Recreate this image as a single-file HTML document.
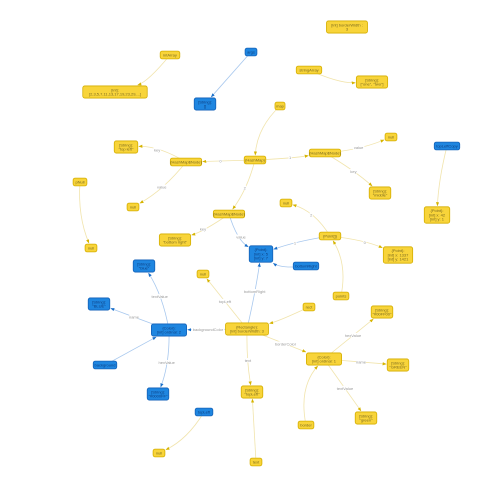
<!DOCTYPE html>
<html><head><meta charset="utf-8"><style>
html,body{margin:0;padding:0;background:#fff;}
svg{display:block;font-family:"Liberation Sans",sans-serif;}
</style></head><body>
<svg id="g" width="484" height="498" viewBox="0 0 484 498" xmlns="http://www.w3.org/2000/svg">
<defs>
<marker id="ay" viewBox="0 0 10 10" refX="9" refY="5" markerWidth="5" markerHeight="5" orient="auto"><path d="M0,1 L10,5 L0,9 z" fill="#d6b400"/></marker>
<marker id="ab" viewBox="0 0 10 10" refX="9" refY="5" markerWidth="5" markerHeight="5" orient="auto"><path d="M0,1 L10,5 L0,9 z" fill="#1a6fc9"/></marker>
</defs>
<g id="edges"></g><g id="nodes"></g>
</svg>
<script>
const nodeIds=["intArray","intArr","args","strEmpty","bw","stringArray","strOneTwo","map","sTopLeft","nodeL","hashMap","nodeR","nullR","sMiddle","topLeftCopy","p42","pNull","nullL","nullP","nodeM","sBottomRight","null2","pointArr","pBlue","bottomRight","p1337","sBlue1","sBlue2","colorBlue","nullTL","background","sHexBlue","rectangle","rect","points","sHexGreen","colorGreen","sGREEN","sTopLeftY","border","sGreen","text","topLeft","null3"];
const nodeText=[["intArray"],["[int]:","[2,3,5,7,11,13,17,19,23,29,...]"],["args"],["[String]:","[]"],["[int] borderWidth :","3"],["stringArray"],["[String]:","[\"one\", \"two\"]"],["map"],["[String]:","\"top left\""],["{HashMap$Node}"],["{HashMap}"],["{HashMap$Node}"],["null"],["[String]:","\"middle\""],["topLeftCopy"],["{Point}:","[int] x: 42","[int] y: 1"],["pNull"],["null"],["null"],["{HashMap$Node}"],["[String]:","\"bottom right\""],["null"],["{Point[]}"],["{Point}:","[int] x: 5","[int] y: 7"],["bottomRight"],["{Point}:","[int] x: 1337","[int] y: 1421"],["[String]:","\"blue\""],["[String]:","\"BLUE\""],["{Color}:","[int] ordinal: 2"],["null"],["background"],["[String]:","\"#0000FF\""],["{Rectangle}:","[int] borderWidth: 3"],["rect"],["points"],["[String]:","\"#00FF00\""],["{Color}:","[int] ordinal: 1"],["[String]:","\"GREEN\""],["[String]:","\"topLeft\""],["border"],["[String]:","\"green\""],["text"],["topLeft"],["null"]];
const blueNodes=["args","strEmpty","topLeftCopy","pBlue","bottomRight","sBlue1","sBlue2","colorBlue","background","sHexBlue","topLeft"];
const nodeX=[170,115,251,205,347,309,372,280,126,186,255,325,391,380,447,437,80,133,91,229,175,286,330,261,306,398,144,99,169,203,105,158,247,309,341,382,324,398,252,306,366,256,204,159];
const nodeY=[55,92,52,104,27,70,82,106,147,162,160,153,137,193,146,215,182,207,248,214,240,203,236,254,266,255,266,304,330,274,365,394,329,307,296,312,359,365,392,425,418,462,412,453];
const edgeFrom=["intArray","args","stringArray","map","hashMap","nodeL","nodeL","hashMap","nodeR","nodeR","hashMap","nodeM","nodeM","topLeftCopy","pNull","pointArr","pointArr","pointArr","bottomRight","points","rectangle","rectangle","rectangle","rectangle","rectangle","rect","colorBlue","colorBlue","colorBlue","background","colorGreen","colorGreen","colorGreen","border","text","topLeft"];
const edgeTo=["intArr","strEmpty","strOneTwo","hashMap","nodeL","sTopLeft","nullL","nodeR","nullR","sMiddle","nodeM","sBottomRight","pBlue","p42","nullP","null2","pBlue","p1337","pBlue","pointArr","nullTL","pBlue","colorBlue","colorGreen","sTopLeftY","rectangle","sBlue1","sBlue2","sHexBlue","colorBlue","sHexGreen","sGREEN","sGreen","colorGreen","sTopLeftY","null3"];
const edgeLabel=["","","","","0","key","value","1","value","key","2","key","value","","","2","1","0","","","topLeft","bottomRight","backgroundColor","borderColor","text","","textValue","name","hexValue","","hexValue","name","textValue","","",""];
const edgeBend=[-0.15,0,0.12,0.2,0,0.15,-0.1,0.03,0.08,-0.05,-0.1,-0.08,0.2,0.05,0.12,0.2,0.05,-0.08,-0.2,0.2,0,0.02,0,0,0.05,-0.05,0.1,0,-0.1,0,0,0,0,-0.25,0,-0.15];

const NS="http://www.w3.org/2000/svg";
const idx={};nodeIds.forEach((n,i)=>idx[n]=i);
const isBlue=i=>blueNodes.indexOf(nodeIds[i])>=0;
function size(i){const t=nodeText[i];let mw=0;t.forEach(s=>mw=Math.max(mw,s.length));return {w:Math.max(10,mw*1.95+4),h:t.length*4.3+3.5};}
function clip(cx,cy,w,h,fx,fy){const dx=fx-cx,dy=fy-cy;if(!dx&&!dy)return[cx,cy];const s=Math.min(Math.abs((w/2+1)/(dx||1e-9)),Math.abs((h/2+1)/(dy||1e-9)));return[cx+dx*s,cy+dy*s];}
const eg=document.getElementById('edges'),ng=document.getElementById('nodes');
edgeFrom.forEach((f,k)=>{
  const a=idx[f],b=idx[edgeTo[k]];
  const x1=nodeX[a],y1=nodeY[a],x2=nodeX[b],y2=nodeY[b];
  const mx=(x1+x2)/2,my=(y1+y2)/2,bd=edgeBend[k];
  const cx=mx-(y2-y1)*bd,cy=my+(x2-x1)*bd;
  const sb=size(b);const [ex,ey]=clip(x2,y2,sb.w,sb.h,cx,cy);
  const blue=isBlue(b);
  const p=document.createElementNS(NS,'path');
  
  
  p.setAttribute('d',`M${x1},${y1} Q${cx},${cy} ${ex},${ey}`);
  p.setAttribute('fill','none');p.setAttribute('stroke',blue?'#a8c8ee':'#f1e4ac');p.setAttribute('stroke-width','0.8');
  p.setAttribute('marker-end',blue?'url(#ab)':'url(#ay)');
  eg.appendChild(p);
  if(edgeLabel[k]){
    const lx=0.25*x1+0.5*cx+0.25*x2,ly=0.25*y1+0.5*cy+0.25*y2;
    const r=document.createElementNS(NS,'rect');
    const w=edgeLabel[k].length*2.1+1;
    
    
    r.setAttribute('x',lx-w/2);r.setAttribute('y',ly-2.6);r.setAttribute('width',w);r.setAttribute('height',4.4);r.setAttribute('fill','#fff');
    eg.appendChild(r);
    const t=document.createElementNS(NS,'text');
    
    
    t.setAttribute('x',lx);t.setAttribute('y',ly+1.4);t.setAttribute('text-anchor','middle');t.setAttribute('font-size','4');t.setAttribute('fill','#999');
    t.textContent=edgeLabel[k];eg.appendChild(t);
  }
});
nodeIds.forEach((n,i)=>{
  const s=size(i),blue=isBlue(i);
  const g=document.createElementNS(NS,'g');
  
  
  const r=document.createElementNS(NS,'rect');
  r.setAttribute('x',nodeX[i]-s.w/2);r.setAttribute('y',nodeY[i]-s.h/2);r.setAttribute('width',s.w);r.setAttribute('height',s.h);r.setAttribute('rx',2);
  r.setAttribute('fill',blue?'#1f86e0':'#f8d43a');r.setAttribute('stroke',blue?'#1562b8':'#d4ae00');r.setAttribute('stroke-width','0.8');
  g.appendChild(r);
  const L=nodeText[i];
  L.forEach((line,j)=>{
    const t=document.createElementNS(NS,'text');
    t.setAttribute('x',nodeX[i]);t.setAttribute('y',nodeY[i]-(L.length-1)*2.15+j*4.3+1.4);
    t.setAttribute('text-anchor','middle');t.setAttribute('font-size','4');t.setAttribute('fill',blue?'#0d3f80':'#7a6a20');
    t.textContent=line;g.appendChild(t);
  });
  ng.appendChild(g);
});
</script>
</body></html>
